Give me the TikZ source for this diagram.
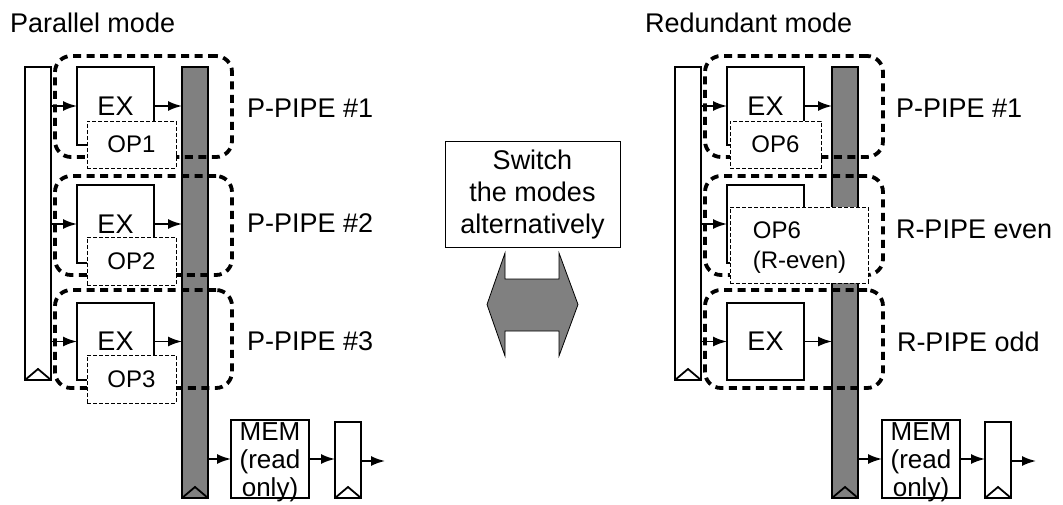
\documentclass[tikz,border=0pt]{standalone}
\usepackage{fontspec}
\setmainfont{Liberation Sans}
\usetikzlibrary{arrows.meta}
\definecolor{bargray}{HTML}{808080}

\tikzset{
  every node/.style={inner sep=0pt, outer sep=0pt},
  big/.style={font=\fontsize{27}{32}\selectfont},
  memfont/.style={font=\fontsize{26}{28}\selectfont},
  opfont/.style={font=\fontsize{24}{30}\selectfont},
  solidbox/.style={draw, line width=1.8pt, fill=white, anchor=north west},
  regbox/.style={solidbox, minimum width=26pt},
  barbox/.style={draw, line width=1.8pt, fill=bargray, anchor=north west, minimum width=26pt},
  exbox/.style={solidbox, big, minimum width=77pt},
  pipebox/.style={draw, line width=3.8pt, dash pattern=on 8pt off 5.5pt,
                  rounded corners=16pt, anchor=north west},
  opbox/.style={draw, line width=0.8pt, dash pattern=on 4pt off 2pt,
                fill=white, anchor=north west, opfont},
  clk/.style={line width=1.8pt, line join=miter},
  arr/.style={line width=1.8pt, -{Latex[length=14pt,width=10pt]}},
}

\begin{document}
\begin{tikzpicture}[x=1pt, y=-1pt]
\useasboundingbox (0,0) rectangle (1063,505);

% ---------------- titles ----------------
\node[big, anchor=base west] (tpar) at (10,33) {Parallel mode};
\node[big, anchor=base west] (tred) at (645,33) {Redundant mode};

% ================= parallel mode =================
\node[regbox, minimum height=313pt] (regL) at (25,67) {};
\draw[clk] (regL.south west) -- ([yshift=11pt]regL.south) -- (regL.south east);

\node[exbox, minimum height=78pt] (exL1) at (77,67) {EX};
\node[exbox, minimum height=78pt] (exL2) at (77,185) {EX};
\node[exbox, minimum height=77pt] (exL3) at (77,303) {EX};

\node[barbox, minimum height=431pt] (barL) at (182,67) {};
\draw[clk] (barL.south west) -- ([yshift=11pt]barL.south) -- (barL.south east);

\foreach \e in {exL1,exL2,exL3}{
  \draw[arr] (\e.west -| regL.east) -- (\e.west);
  \draw[arr] (\e.east) -- (\e.east -| barL.west);
}

\node[pipebox, minimum width=177pt, minimum height=101pt] (ppL1) at (55,56) {};
\node[pipebox, minimum width=177pt, minimum height=99pt] (ppL2) at (55,176) {};
\node[pipebox, minimum width=177pt, minimum height=98pt] (ppL3) at (55,290) {};

\node[opbox, minimum width=89pt, minimum height=47pt] (opL1) at (87,121) {OP1};
\node[opbox, minimum width=89pt, minimum height=48pt] (opL2) at (87,237) {OP2};
\node[opbox, minimum width=89pt, minimum height=48pt] (opL3) at (87,355) {OP3};

\node[big, anchor=west] (lbL1) at (247,108) {P-PIPE \#1};
\node[big, anchor=west] (lbL2) at (247,223) {P-PIPE \#2};
\node[big, anchor=west] (lbL3) at (247,341) {P-PIPE \#3};

\node[solidbox, minimum width=78pt, minimum height=78pt] (memL) at (231,420) {};
\node[memfont, align=center] (memLt) at (270,462) {MEM\\(read\\only)};
\node[regbox, minimum height=76pt] (regL2) at (335,422) {};
\draw[clk] (regL2.south west) -- ([yshift=11pt]regL2.south) -- (regL2.south east);
\coordinate (outL) at (385,461);

\draw[arr] (memL.west -| barL.east) -- (memL.west);
\draw[arr] (memL.east) -- (memL.east -| regL2.west);
\draw[arr] (outL -| regL2.east) -- (outL);

% ================= mode switch =================
\node[draw, line width=1pt, big, align=center, minimum width=175pt,
      minimum height=106pt] (switch) at (532.5,195)
      {Switch\\the modes\\alternatively};
\draw[fill=bargray, line width=0.8pt, line join=miter]
  (505,253) -- (505,279) -- (559,279) -- (559,253) -- (578,304.5)
  -- (559,356) -- (559,331) -- (505,331) -- (505,356) -- (487,304.5) -- cycle;

% ================= redundant mode =================
\node[regbox, minimum height=313pt] (regR) at (675,67) {};
\draw[clk] (regR.south west) -- ([yshift=11pt]regR.south) -- (regR.south east);

\node[exbox, minimum height=78pt] (exR1) at (727,67) {EX};
\node[exbox, minimum height=78pt] (exR2) at (727,185) {};
\node[exbox, minimum height=77pt] (exR3) at (727,303) {EX};

\node[barbox, minimum height=431pt] (barR) at (832,67) {};
\draw[clk] (barR.south west) -- ([yshift=11pt]barR.south) -- (barR.south east);

\foreach \e in {exR1,exR2,exR3}{
  \draw[arr] (\e.west -| regR.east) -- (\e.west);
}
\draw[arr] (exR1.east) -- (exR1.east -| barR.west);
\draw[arr] (exR3.east) -- (exR3.east -| barR.west);

\node[pipebox, minimum width=178pt, minimum height=101pt] (ppR1) at (705,56) {};
\node[pipebox, minimum width=178pt, minimum height=99pt] (ppR2) at (705,176) {};
\node[pipebox, minimum width=178pt, minimum height=98pt] (ppR3) at (705,290) {};

\node[opbox, minimum width=91pt, minimum height=47pt] (opR1) at (730,121) {OP6};
\node[opbox, minimum width=138pt, minimum height=76pt] (opR2) at (730,207) {};
\node[opfont, align=left] (opR2t) at (799.5,248) {OP6\\(R-even)};

\node[big, anchor=west] (lbR1) at (896,108) {P-PIPE \#1};
\node[big, anchor=west] (lbR2) at (896,229) {R-PIPE even};
\node[big, anchor=west] (lbR3) at (897,342) {R-PIPE odd};

\node[solidbox, minimum width=78pt, minimum height=78pt] (memR) at (882,420) {};
\node[memfont, align=center] (memRt) at (921,462) {MEM\\(read\\only)};
\node[regbox, minimum height=76pt] (regR2) at (985,422) {};
\draw[clk] (regR2.south west) -- ([yshift=11pt]regR2.south) -- (regR2.south east);
\coordinate (outR) at (1036,461);

\draw[arr] (memR.west -| barR.east) -- (memR.west);
\draw[arr] (memR.east) -- (memR.east -| regR2.west);
\draw[arr] (outR -| regR2.east) -- (outR);
\end{tikzpicture}
\end{document}
